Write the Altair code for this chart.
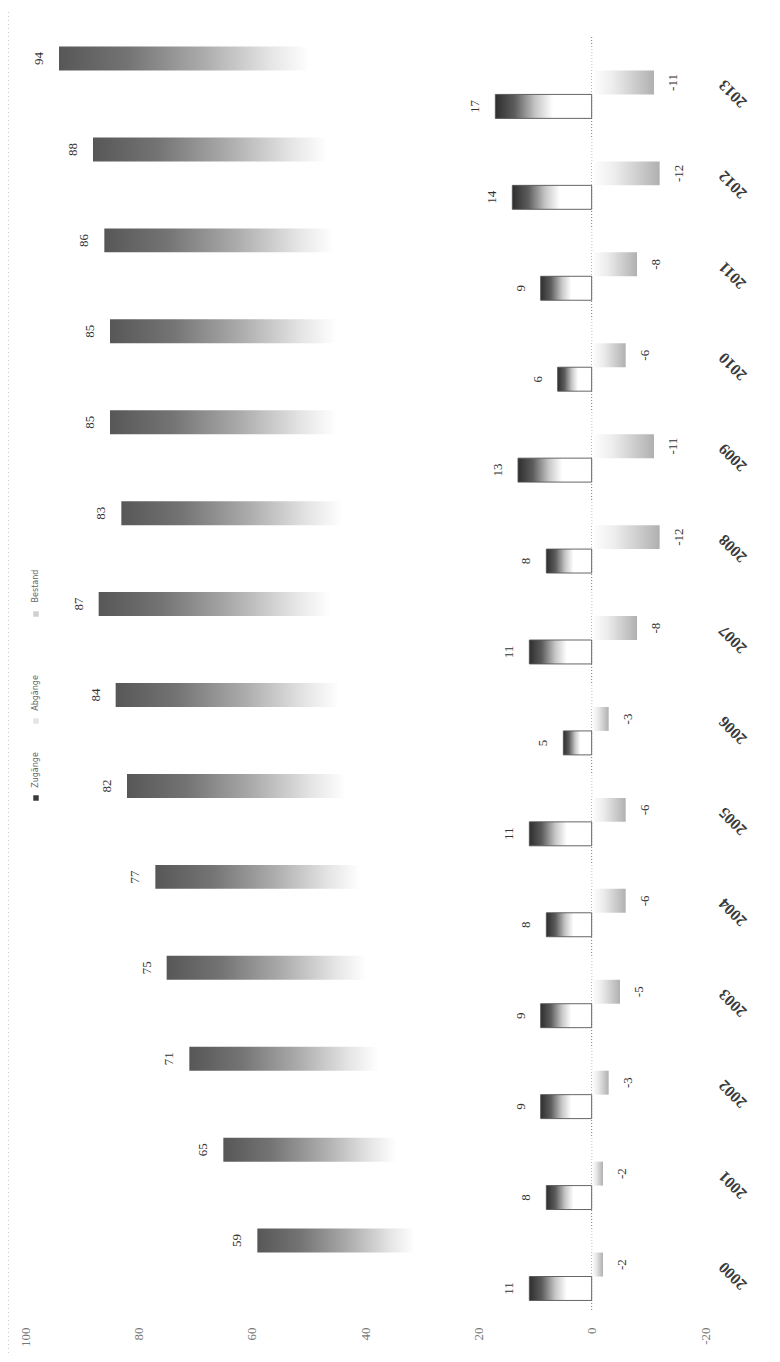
import altair as alt
import pandas as pd

# ---- data ----
years = ["2000", "2001", "2002", "2003", "2004", "2005", "2006",
         "2007", "2008", "2009", "2010", "2011", "2012", "2013"]
zugaenge = [11, 8, 9, 9, 8, 11, 5, 11, 8, 13, 6, 9, 14, 17]
abgaenge = [-2, -2, -3, -5, -6, -6, -3, -8, -12, -11, -6, -8, -12, -11]
bestand = [59, 65, 71, 75, 77, 82, 84, 87, 83, 85, 85, 86, 88, 94]
series_names = ["Zugänge", "Abgänge", "Bestand"]
axis_values = [100, 80, 60, 40, 20, 0, -20]

rows = []
for name, vals in zip(series_names, [zugaenge, abgaenge, bestand]):
    for yr, v in zip(years, vals):
        rows.append({"year": yr, "series": name, "value": v})
df = pd.DataFrame(rows)

W, H = 680, 1273
SERIF = "Liberation Serif"

x_axis = alt.Axis(values=axis_values, labelAngle=270, labelAlign="right",
                  labelBaseline="middle", labelPadding=17, ticks=False,
                  domain=False, grid=False, title=None, labelFont=SERIF,
                  labelFontSize=13, labelColor="#777", labelExpr="toString(datum.value)")
y_axis = alt.Axis(orient="right", labelAngle=225, labelAlign="right",
                  labelBaseline="middle", labelPadding=16, ticks=False,
                  domain=False, grid=False, title=None, labelFont=SERIF,
                  labelFontSize=16, labelFontWeight="bold", labelColor="#3a3a3a")

X = alt.X("value:Q", scale=alt.Scale(domain=[-20, 100], reverse=True,
                                      nice=False, zero=False), axis=x_axis)
Y = alt.Y("year:N", sort="descending",
          scale=alt.Scale(paddingInner=0.21, paddingOuter=0.105), axis=y_axis)
YO = alt.YOffset("series:N", scale=alt.Scale(domain=["Bestand", "Abgänge", "Zugänge"],
                                             paddingInner=0, paddingOuter=0))


def grad(stops):
    return alt.LinearGradient(gradient="linear", x1=0, x2=1, y1=0, y2=0,
                              stops=[alt.GradientStop(color=c, offset=o) for o, c in stops])


g_big = grad([(0, "#575757"), (0.13, "#747474"), (0.27, "#ababab"),
              (0.4, "#e6e6e6"), (0.47, "#ffffff"), (1, "#ffffff")])
g_pos = grad([(0, "#2e2e2e"), (0.2, "#5c5c5c"), (0.42, "#c8c8c8"),
              (0.6, "#ffffff"), (1, "#ffffff")])
g_neg = grad([(0, "#ffffff"), (0.35, "#ececec"), (1, "#b0b0b0")])

base = alt.Chart(df).transform_calculate(label="toString(datum.value)")
one = alt.Chart(pd.DataFrame({"k": [0]}))

zero_rule = one.mark_rule(color="#777", strokeDash=[1, 2], strokeWidth=1).encode(
    x=alt.datum(0), y=alt.value(0), y2=alt.value(H))
border = one.mark_rule(color="#999", strokeDash=[1, 3], strokeWidth=1).encode(
    x=alt.value(-17), y=alt.value(-25), y2=alt.value(H + 45))

bars_big = base.transform_filter(alt.datum.series == "Bestand").mark_bar(fill=g_big).encode(
    x=X, x2=alt.datum(0), y=Y, yOffset=YO)
bars_pos = base.transform_filter(alt.datum.series == "Zugänge").mark_bar(
    fill=g_pos, stroke="#555", strokeWidth=0.9).encode(x=X, x2=alt.datum(0), y=Y, yOffset=YO)
bars_neg = base.transform_filter(alt.datum.series == "Abgänge").mark_bar(fill=g_neg).encode(
    x=X, x2=alt.datum(0), y=Y, yOffset=YO)

lbl_left = base.transform_filter(alt.datum.value > 0).mark_text(
    angle=270, align="center", baseline="bottom", dy=-13, font=SERIF,
    fontSize=13, color="#333").encode(x=X, y=Y, yOffset=YO, text="label:N")
lbl_right = base.transform_filter(alt.datum.value < 0).mark_text(
    angle=270, align="center", baseline="top", dy=13, font=SERIF,
    fontSize=13, color="#333").encode(x=X, y=Y, yOffset=YO, text="label:N")

# legend (rotated, like the rest of the picture)
leg_y = {"Zugänge": 733, "Abgänge": 656, "Bestand": 549}
leg_marker = {"Zugänge": "#3a3a3a", "Abgänge": "#e4e4e4", "Bestand": "#d0d0d0"}
legend_layers = []
for name in series_names:
    legend_layers.append(one.mark_text(angle=270, align="center", baseline="middle",
                                       font="DejaVu Sans", fontSize=8, color="#666").encode(
        x=alt.value(11), y=alt.value(leg_y[name]), text=alt.value(name)))
    legend_layers.append(one.mark_square(size=30, color=leg_marker[name], opacity=1).encode(
        x=alt.value(11), y=alt.value(leg_y[name] + 28)))

chart = alt.layer(zero_rule, border, bars_big, bars_neg, bars_pos, lbl_left, lbl_right,
                  *legend_layers).properties(
    width=W, height=H,
    autosize=alt.AutoSizeParams(type="none"),
    padding={"left": 17, "top": 29, "right": 67, "bottom": 44},
    background="white",
).configure_view(strokeWidth=0)

chart.save("out.html", embed_options={"renderer": "svg", "actions": False})
